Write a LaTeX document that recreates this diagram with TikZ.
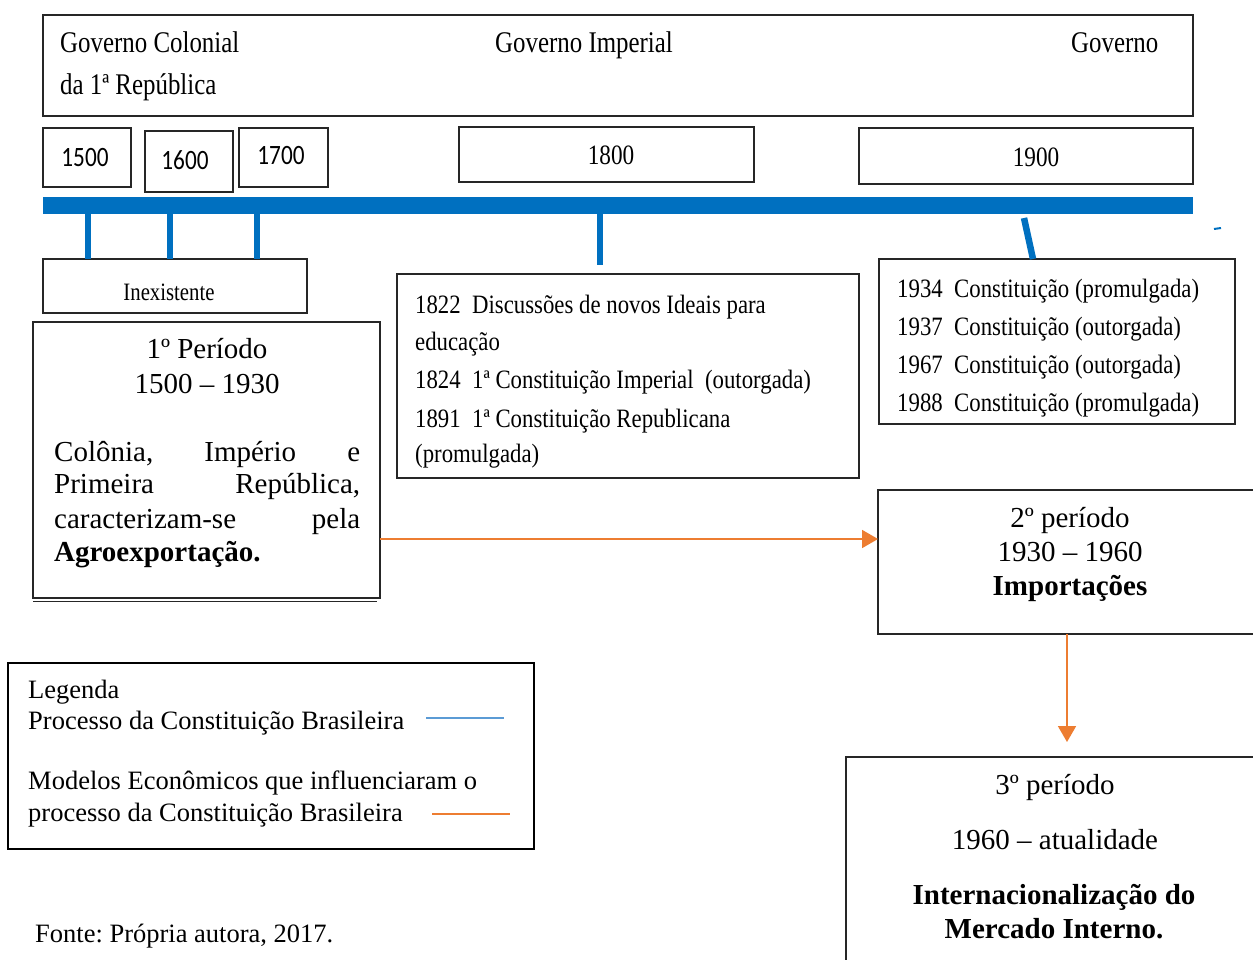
\documentclass[tikz,border=0pt]{standalone}
\usepackage{fontspec}
\setmainfont{Liberation Serif}
\newfontfamily\condserif[FakeStretch=0.83]{Liberation Serif}
\newfontfamily\condserifb[FakeStretch=0.86]{Liberation Serif}
\newfontfamily\condsans[FakeStretch=0.83]{Carlito}
\usetikzlibrary{arrows.meta}
\definecolor{barblue}{HTML}{0070C0}
\definecolor{legblue}{HTML}{5B9BD5}
\definecolor{orng}{HTML}{ED7D31}
\frenchspacing
\begin{document}
\begin{tikzpicture}[x=1pt,y=-1pt,
  box/.style={draw=black!85, line width=1.6pt, inner sep=0pt, outer sep=0pt, anchor=north west},
  hdr/.style={font=\condserif\fontsize{30}{36}\selectfont, inner sep=0pt, anchor=base west},
  evt/.style={font=\condserifb\fontsize{26.5}{32}\selectfont, inner sep=0pt, anchor=base west},
  yrsans/.style={font=\condsans\fontsize{28}{32}\selectfont, inner sep=0pt, anchor=base},
  yrserif/.style={font=\condserif\fontsize{28}{32}\selectfont, inner sep=0pt, anchor=base},
  inex/.style={font=\condserif\fontsize{25}{30}\selectfont, inner sep=0pt, anchor=base},
  body/.style={font=\fontsize{29}{33.5}\selectfont, inner sep=0pt, anchor=base},
  leg/.style={font=\fontsize{26.5}{31}\selectfont, inner sep=0pt, anchor=base west},
  tick/.style={draw=barblue, line width=6.5pt},
  arr/.style={draw=orng, line width=1.8pt, -{Triangle[width=18pt,length=16pt]}}
]
\useasboundingbox (0,0) rectangle (1253,960);
\fill[white] (0,0) rectangle (1253,960);
\clip (0,0) rectangle (1253,960);

% top government box
\node[box, minimum width=1150, minimum height=101] (gov) at (43,15) {};
\node[hdr] (g1) at (60,53) {Governo Colonial};
\node[hdr] (g2) at (60,95) {da 1ª República};
\node[hdr] (g3) at (495,53) {Governo Imperial};
\node[hdr] (g4) at (1071,53) {Governo};

% year boxes
\node[box, minimum width=88, minimum height=59] (y15) at (43,128) {};
\node[box, minimum width=88, minimum height=61] (y16) at (145,131) {};
\node[box, minimum width=89, minimum height=59] (y17) at (239,128) {};
\node[box, minimum width=295, minimum height=55] (y18) at (459,127) {};
\node[box, minimum width=334, minimum height=56] (y19) at (859,128) {};
\node[yrsans] at (85,167) {1500};
\node[yrsans] at (185,170) {1600};
\node[yrsans] at (281,165) {1700};
\node[yrserif] at (611,165) {1800};
\node[yrserif] at (1036,167) {1900};

% blue time bar
\node[fill=barblue, inner sep=0pt, outer sep=0pt, minimum width=1150, minimum height=17, anchor=north west] (bar) at (43,197) {};

% event boxes
\node[box, minimum width=264, minimum height=54] (inexb) at (43,259) {};
\node[inex] at (169,300) {Inexistente};
\node[box, minimum width=462, minimum height=204] (ev1) at (397,274) {};
\node[evt] at (415,313) {1822\ \ Discussões de novos Ideais para};
\node[evt] at (415,350) {educação};
\node[evt] at (415,388) {1824\ \ 1ª Constituição Imperial\ \ (outorgada)};
\node[evt] at (415,427) {1891\ \ 1ª Constituição Republicana};
\node[evt] at (415,462) {(promulgada)};
\node[box, minimum width=356, minimum height=165] (ev2) at (879,259) {};
\node[evt] at (897,297) {1934\ \ Constituição (promulgada)};
\node[evt] at (897,335) {1937\ \ Constituição (outorgada)};
\node[evt] at (897,373) {1967\ \ Constituição (outorgada)};
\node[evt] at (897,411) {1988\ \ Constituição (promulgada)};

% ticks
\coordinate (x1) at (88,0);
\coordinate (x2) at (170,0);
\coordinate (x3) at (257,0);
\coordinate (x4) at (600,0);
\draw[tick] (x1 |- bar.south) -- (x1 |- inexb.north);
\draw[tick] (x2 |- bar.south) -- (x2 |- inexb.north);
\draw[tick] (x3 |- bar.south) -- (x3 |- inexb.north);
\draw[tick, shorten >=9pt] (x4 |- bar.south) -- (x4 |- ev1.north);
\coordinate (s1) at (1024,218);
\coordinate (s2) at (1033,259);
\draw[tick] (s1) -- (s2);
\coordinate (m1) at (1214,229);
\coordinate (m2) at (1221,228);
\draw[barblue, line width=2pt] (m1) -- (m2);

% period 1
\node[box, minimum width=347, minimum height=276] (p1) at (33,322) {};
\draw[black!85, line width=1.2pt] ([yshift=-3.5pt]p1.south west) -- ([xshift=-3pt,yshift=-3.5pt]p1.south east);
\node[body] at (207,358) {1º Período};
\node[body] at (207,393) {1500 – 1930};
\node[body, anchor=base west] at (54,461) {\makebox[306pt]{Colônia,\hfill Império\hfill e}};
\node[body, anchor=base west] at (54,493) {\makebox[306pt]{Primeira\hfill República,}};
\node[body, anchor=base west] at (54,528) {\makebox[306pt]{caracterizam-se\hfill pela}};
\node[body, anchor=base west] at (54,561) {\textbf{Agroexportação.}};

% period 2
\node[box, minimum width=400, minimum height=144] (p2) at (878,490) {};
\node[body] at (1070,527) {2º período};
\node[body] at (1070,561) {1930 – 1960};
\node[body] at (1070,595) {\textbf{Importações}};

% period 3
\node[box, minimum width=420, minimum height=230] (p3) at (846,757) {};
\node[body] at (1055,794) {3º período};
\node[body] at (1055,849) {1960 – atualidade};
\node[body] at (1054,904) {\textbf{Internacionalização do}};
\node[body] at (1054,938) {\textbf{Mercado Interno.}};

% arrows
\coordinate (ay) at (0,539);
\draw[arr] (p1.east |- ay) -- (p2.west |- ay);
\coordinate (ax) at (1067,0);
\draw[arr, shorten >=15pt] (ax |- p2.south) -- (ax |- p3.north);

% legend
\node[box, draw=black, line width=1.3pt, minimum width=526, minimum height=186] (legbox) at (8,663) {};
\node[leg] at (28,698) {Legenda};
\node[leg] at (28,729) {Processo da Constituição Brasileira};
\node[leg] at (28,789) {Modelos Econômicos que influenciaram o};
\node[leg] at (28,821) {processo da Constituição Brasileira};
\coordinate (lb1) at (426,718);
\coordinate (lb2) at (504,718);
\coordinate (lo1) at (432,814);
\coordinate (lo2) at (510,814);
\draw[legblue, line width=1.4pt] (lb1) -- (lb2);
\draw[orng, line width=1.4pt] (lo1) -- (lo2);

\node[leg] at (35,942) {Fonte: Própria autora, 2017.};
\end{tikzpicture}
\end{document}
